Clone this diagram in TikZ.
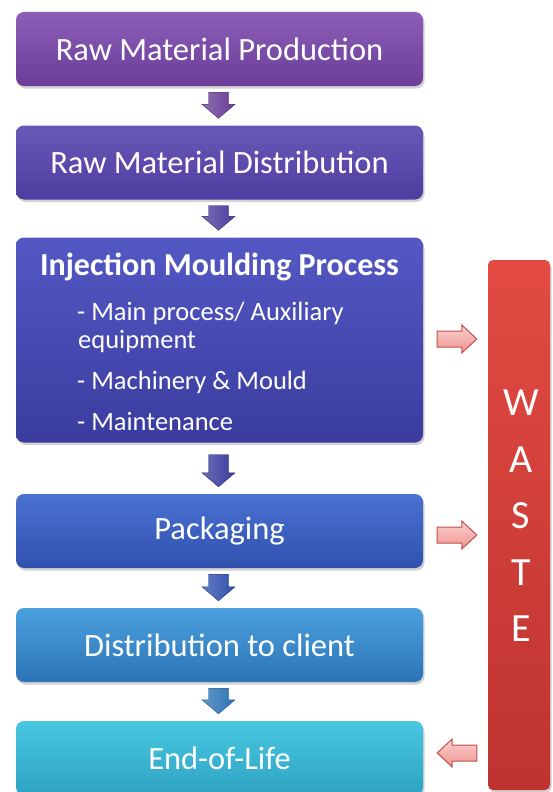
\documentclass[tikz,border=0pt]{standalone}
\usepackage{fontspec}
\setmainfont{Carlito}
\usetikzlibrary{calc,shadows}
\definecolor{c1t}{HTML}{8C5EB8}\definecolor{c1b}{HTML}{6A3D98}
\definecolor{c2t}{HTML}{6A58B8}\definecolor{c2b}{HTML}{4E3CA0}
\definecolor{c3t}{HTML}{5458C4}\definecolor{c3b}{HTML}{3A3C9E}
\definecolor{c4t}{HTML}{4A72D2}\definecolor{c4b}{HTML}{3050AE}
\definecolor{c5t}{HTML}{4BA0DE}\definecolor{c5b}{HTML}{2C74B6}
\definecolor{c6t}{HTML}{48C8E2}\definecolor{c6b}{HTML}{2EA2C2}
\definecolor{wt}{HTML}{E24A42}\definecolor{wb}{HTML}{BE3330}
\definecolor{pinkt}{HTML}{FBD0CE}\definecolor{pinkb}{HTML}{EE9490}
\definecolor{redline}{HTML}{C0504D}
\begin{document}
\begin{tikzpicture}[x=1pt,y=-1pt,
  box/.style={rounded corners=8pt, minimum width=407pt, minimum height=74pt,
    inner sep=0pt, text=white, font=\fontsize{32.5}{38}\selectfont,
    drop shadow={shadow xshift=1.5pt,shadow yshift=-2.5pt,opacity=0.35}},
  vblock/.style={to path={let \p1=(\tikztostart),\p2=(\tikztotarget) in
    (\x1-10pt,\y1) -- (\x1+10pt,\y1) -- (\x1+10pt,\y2+14pt) -- (\x1+16.5pt,\y2+14pt)
    -- (\x1,\y2) -- (\x1-16.5pt,\y2+14pt) -- (\x1-10pt,\y2+14pt) -- cycle}},
  downarrow/.style={vblock, draw=#1!70!black, line width=0.4pt, left color=#1!75!white, right color=#1},
  hblockR/.style={to path={let \p1=(\tikztostart),\p2=(\tikztotarget) in
    (\x1,\y1-8pt) -- (\x2-15pt,\y1-8pt) -- (\x2-15pt,\y1-14pt) -- (\x2,\y1)
    -- (\x2-15pt,\y1+14pt) -- (\x2-15pt,\y1+8pt) -- (\x1,\y1+8pt) -- cycle}},
  hblockL/.style={to path={let \p1=(\tikztostart),\p2=(\tikztotarget) in
    (\x1,\y1-8pt) -- (\x2+15pt,\y1-8pt) -- (\x2+15pt,\y1-14pt) -- (\x2,\y1)
    -- (\x2+15pt,\y1+14pt) -- (\x2+15pt,\y1+8pt) -- (\x1,\y1+8pt) -- cycle}},
  redarrow/.style={draw=redline, line width=1pt, top color=pinkt, bottom color=pinkb},
  item/.style={anchor=base west, text=white, inner sep=0pt, font=\fontsize{26.5}{30}\selectfont}
]
\useasboundingbox (0,0) rectangle (552,792);
\clip (0,0) rectangle (552,792);
\fill[white] (0,0) rectangle (552,792);

\node[box, top color=c1t, bottom color=c1b] (rmp) at (219.5,49) {Raw Material Production};
\node[box, top color=c2t, bottom color=c2b] (rmd) at (219.5,162.5) {Raw Material Distribution};
\node[box, minimum height=205pt, top color=c3t, bottom color=c3b] (imp) at (219.5,340) {};
\node[anchor=base, text=white, inner sep=0pt, font=\fontsize{32}{38}\selectfont\bfseries] (impt) at (219.5,275) {Injection Moulding Process};
\node[item] (i1) at (77,320) {- Main process/ Auxiliary};
\node[item] (i2) at (78,348) {equipment};
\node[item] (i3) at (77,389) {- Machinery \& Mould};
\node[item] (i4) at (77,430) {- Maintenance};
\node[box, top color=c4t, bottom color=c4b] (pack) at (219.5,531) {Packaging};
\node[box, top color=c5t, bottom color=c5b] (dist) at (219.5,645) {Distribution to client};
\node[box, top color=c6t, bottom color=c6b] (eol) at (219.5,758) {End-of-Life};

\node[rounded corners=5pt, minimum width=62pt, minimum height=530pt, inner sep=0pt,
  top color=wt, bottom color=wb,
  drop shadow={shadow xshift=1.5pt,shadow yshift=-2.5pt,opacity=0.35}] (waste) at (519,525) {};
\node[align=center, text=white, inner sep=0pt, font=\fontsize{40}{56.5}\selectfont] (wtxt) at (521,516) {W\\A\\S\\T\\E};

\draw[downarrow=c1b] ($(rmp.south)+(-1,6)$) to ($(rmd.north)+(-1,-7)$);
\draw[downarrow=c2b] ($(rmd.south)+(-1,6)$) to ($(imp.north)+(-1,-7)$);
\draw[downarrow=c3b] ($(imp.south)+(-1,12)$) to ($(pack.north)+(-1,-7)$);
\draw[downarrow=c4b] ($(pack.south)+(-1,6)$) to ($(dist.north)+(-1,-7)$);
\draw[downarrow=c5b] ($(dist.south)+(-1,6)$) to ($(eol.north)+(-1,-7)$);

\draw[redarrow, hblockR] ($(imp.east)+(14,-1)$) to ($(waste.west |- imp.east)+(-11,-1)$);
\draw[redarrow, hblockR] ($(pack.east)+(14,4)$) to ($(waste.west |- pack.east)+(-11,4)$);
\draw[redarrow, hblockL] ($(waste.west |- eol.east)+(-11,-5)$) to ($(eol.east)+(14,-5)$);
\end{tikzpicture}
\end{document}
